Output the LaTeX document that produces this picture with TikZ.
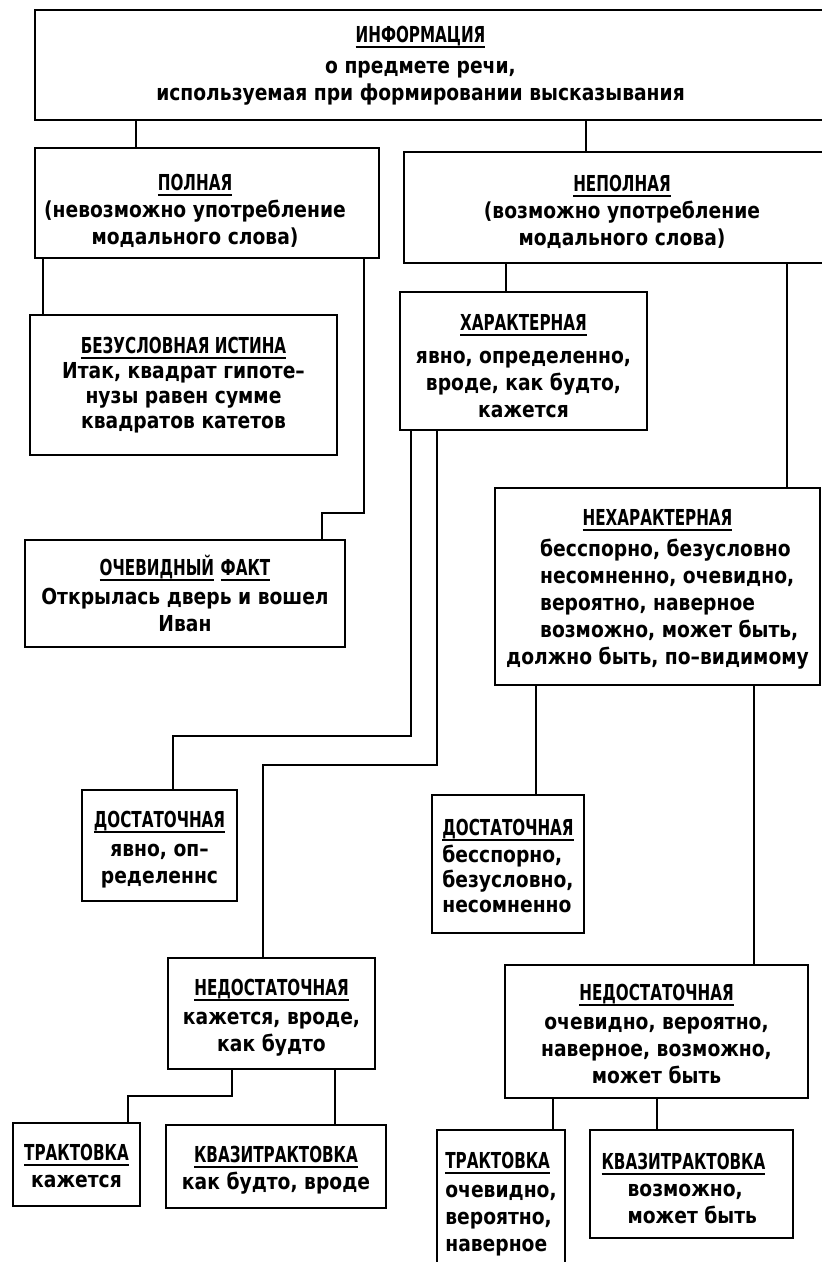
\documentclass[tikz,border=0pt]{standalone}
\usepackage{fontspec}
\newfontfamily\bodyf{DejaVu Sans}[FakeStretch=0.85]
\newfontfamily\tfont{DejaVu Sans}[FakeStretch=0.69]
\newcommand\ttl[1]{{\tfont\bfseries\fontsize{11}{13.5}\selectfont\setbox0=\hbox{#1}\rlap{\rule[-2.6pt]{\wd0}{1pt}}\box0}}
\newcommand\tcen[1]{\begin{tabular}{@{}c@{}}#1\end{tabular}}
\newcommand\tlft[1]{\begin{tabular}{@{}l@{}}#1\end{tabular}}
\newcommand\mc[1]{\multicolumn{1}{@{}c@{}}{#1}}
% extra room above the first line: moves the text block down by #1 (in px)
\newcommand\dn[1]{\rule{0pt}{\dimexpr 9.45pt+#1\relax}}
\begin{document}
\begin{tikzpicture}[x=0.5pt,y=-0.5pt,
  box/.style={draw, line width=1pt, inner sep=0pt, font=\bodyf\bfseries\fontsize{11}{13.5}\selectfont},
  conn/.style={line width=1pt}]
\fill[white] (0,0) rectangle (822,1262);
\clip (0,0) rectangle (822,1262);

% boxes
\node[box, minimum width=402.5pt, minimum height=55pt] (info) at (437.5,65)
  {\tcen{\dn{1pt}\ttl{ИНФОРМАЦИЯ}\\[2pt] о предмете речи,\\ используемая при формировании высказывания}\kern17pt};
\node[box, minimum width=172pt, minimum height=55pt] (poln) at (207,203)
  {\tcen{\dn{9pt}\ttl{ПОЛНАЯ}\\ (невозможно употребление\\ модального слова)}\kern12pt};
\node[box, minimum width=218pt, minimum height=55.5pt] (nepoln) at (622,207.5)
  {\tcen{\dn{6pt}\ttl{НЕПОЛНАЯ}\\ (возможно употребление\\ модального слова)}};
\node[box, minimum width=153.5pt, minimum height=70pt] (bez) at (183.5,385)
  {\tcen{\dn{1pt}\ttl{БЕЗУСЛОВНАЯ ИСТИНА}\\[-1pt] Итак, квадрат гипоте–\\[-1pt] нузы равен сумме\\[-1pt] квадратов катетов}};
\node[box, minimum width=160pt, minimum height=53.5pt] (ocev) at (185,593.5)
  {\tcen{\dn{5pt}\ttl{ОЧЕВИДНЫЙ} \ttl{ФАКТ}\\[1pt] Открылась дверь и вошел\\ Иван}};
\node[box, minimum width=123.5pt, minimum height=69pt] (har) at (523.5,361)
  {\tcen{\dn{8pt}\ttl{ХАРАКТЕРНАЯ}\\[3pt] явно, определенно,\\ вроде, как будто,\\ кажется}};
\node[box, minimum width=162.5pt, minimum height=98.5pt] (nehar) at (657.5,586.5)
  {\tlft{\mc{\dn{3pt}\ttl{НЕХАРАКТЕРНАЯ}}\\[2pt]
   \hspace*{17pt}бесспорно, безусловно\\
   \hspace*{17pt}несомненно, очевидно,\\
   \hspace*{17pt}вероятно, наверное\\
   \hspace*{17pt}возможно, может быть,\\
   должно быть, по–видимому}};
\node[box, minimum width=77.5pt, minimum height=55.5pt] (dost1) at (159.5,845.5)
  {\tcen{\dn{5pt}\ttl{ДОСТАТОЧНАЯ}\\[1pt] явно, оп–\\ ределеннс}};
\node[box, minimum width=76pt, minimum height=69pt] (dost2) at (508,864)
  {\tlft{\dn{5pt}\ttl{ДОСТАТОЧНАЯ}\\ бесспорно,\\[-1pt] безусловно,\\[-1pt] несомненно}};
\node[box, minimum width=103.5pt, minimum height=55.5pt] (nedost1) at (271.5,1013.5)
  {\tcen{\dn{5pt}\ttl{НЕДОСТАТОЧНАЯ}\\[1pt] кажется, вроде,\\ как будто}};
\node[box, minimum width=151.5pt, minimum height=66.5pt] (nedost2) at (656.5,1031.5)
  {\tcen{\dn{5pt}\ttl{НЕДОСТАТОЧНАЯ}\\[1pt] очевидно, вероятно,\\ наверное, возможно,\\ может быть}};
\node[box, minimum width=63.5pt, minimum height=41.5pt] (trak1) at (76.5,1164.5)
  {\tcen{\dn{4pt}\ttl{ТРАКТОВКА}\\ кажется}};
\node[box, minimum width=110pt, minimum height=41.5pt] (kvaz1) at (276,1166.5)
  {\tcen{\dn{4pt}\ttl{КВАЗИТРАКТОВКА}\\ как будто, вроде}};
\node[box, minimum width=64pt, minimum height=73pt] (trak2) at (501,1203)
  {\tlft{\dn{2pt}\ttl{ТРАКТОВКА}\\[1pt] очевидно,\\ вероятно,\\ наверное}};
\node[box, minimum width=101.5pt, minimum height=54pt] (kvaz2) at (691.5,1184)
  {\tlft{\mc{\dn{7pt}\ttl{КВАЗИТРАКТОВКА}}\\ \hspace*{13pt}возможно,\\ \hspace*{13pt}может быть}\kern8pt};

% connector guide coordinates
\coordinate (xa) at (136,0);
\coordinate (xb) at (586,0);
\coordinate (xc) at (43,0);
\coordinate (kc1) at (364,513);
\coordinate (kc2) at (322,513);
\coordinate (xd) at (506,0);
\coordinate (xe) at (787,0);
\coordinate (kh1) at (411,736);
\coordinate (kh2) at (173,736);
\coordinate (kg1) at (437,765);
\coordinate (kg2) at (263,765);
\coordinate (xf) at (536,0);
\coordinate (xg) at (754,0);
\coordinate (kn1) at (232,1096);
\coordinate (kn2) at (128,1096);
\coordinate (xh) at (335,0);
\coordinate (xi) at (553,0);
\coordinate (xj) at (657,0);

% connectors
\draw[conn] (info.south -| xa) -- (poln.north -| xa);
\draw[conn] (info.south -| xb) -- (nepoln.north -| xb);
\draw[conn] (poln.south -| xc) -- (bez.north -| xc);
\draw[conn] (poln.south -| kc1) -- (kc1) -- (kc2) -- (ocev.north -| kc2);
\draw[conn] (nepoln.south -| xd) -- (har.north -| xd);
\draw[conn] (nepoln.south -| xe) -- (nehar.north -| xe);
\draw[conn] (har.south -| kh1) -- (kh1) -- (kh2) -- (dost1.north -| kh2);
\draw[conn] (har.south -| kg1) -- (kg1) -- (kg2) -- (nedost1.north -| kg2);
\draw[conn] (nehar.south -| xf) -- (dost2.north -| xf);
\draw[conn] (nehar.south -| xg) -- (nedost2.north -| xg);
\draw[conn] (nedost1.south -| kn1) -- (kn1) -- (kn2) -- (trak1.north -| kn2);
\draw[conn] (nedost1.south -| xh) -- (kvaz1.north -| xh);
\draw[conn] (nedost2.south -| xi) -- (trak2.north -| xi);
\draw[conn] (nedost2.south -| xj) -- (kvaz2.north -| xj);
\end{tikzpicture}
\end{document}
